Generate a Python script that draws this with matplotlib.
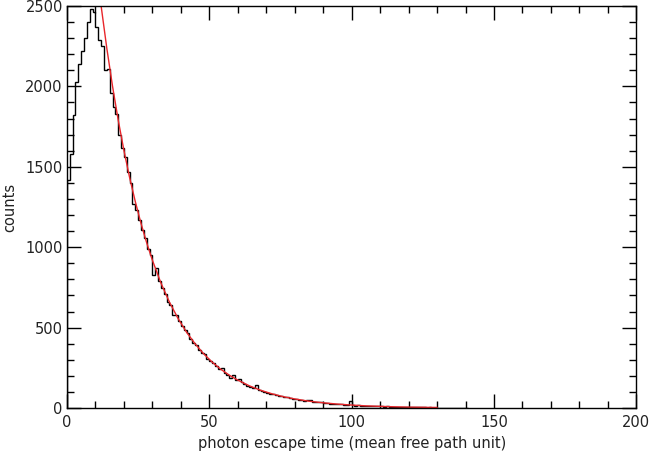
import numpy as np
import matplotlib
matplotlib.use('Agg')
import matplotlib.pyplot as plt
from matplotlib.ticker import MultipleLocator

# histogram counts, bin width 1, bins starting at 0
counts = [1420, 1580, 1820, 2030, 2140, 2220, 2300, 2400, 2480, 2460,
          2370, 2290, 2250, 2100, 2110, 1960, 1870, 1830, 1700, 1620,
          1560, 1470, 1400, 1270, 1230, 1170, 1110, 1060, 990, 950,
          830, 870, 790, 745, 710, 660, 640, 580, 580, 540,
          510, 485, 465, 430, 405, 390, 360, 345, 335, 305,
          290, 280, 262, 240, 250, 220, 205, 190, 205, 175,
          180, 162, 150, 140, 132, 128, 145, 112, 106, 100,
          95, 90, 85, 80, 76, 73, 69, 68, 62, 58,
          56, 52, 50, 47, 52, 50, 40, 38, 36, 35,
          32, 30, 28, 27, 25, 23, 24, 21, 21, 45,
          18, 16, 17, 14, 14, 15, 12, 11, 12, 10,
          10, 9, 11, 8, 9, 7, 8, 6, 7, 6,
          5, 6, 5, 4, 5, 4, 3, 4, 3, 3,
          2, 3, 2, 2, 1, 2, 1, 1, 1, 1, 1]
bin_width = 1.0

# exponential fit
fit_x = [12, 14, 16, 18, 20, 22, 24, 26, 28, 30, 33, 36, 39, 42, 45, 48, 51,
         54, 57, 60, 64, 68, 72, 76, 80, 85, 90, 95, 100, 105, 110, 115,
         120, 125, 130]
fit_y = [2500, 2237, 2002, 1791, 1603, 1434, 1284, 1149, 1028, 920, 778,
         659, 558, 472, 400, 338, 286, 242, 205, 174, 139, 111, 89, 71, 57,
         43, 33, 25, 19, 14, 11, 8, 6, 5, 4]

edges = np.arange(len(counts) + 1) * bin_width

fig = plt.figure(figsize=(6.5, 4.57), dpi=100)
ax = fig.add_axes([0.103, 0.107, 0.876, 0.880])

ax.stairs(counts, edges, color='black', linewidth=1.0)
ax.plot(fit_x, fit_y, color='#e8262b', linewidth=1.0)

ax.set_xlim(0, 200)
ax.set_ylim(0, 2500)
ax.xaxis.set_major_locator(MultipleLocator(50))
ax.xaxis.set_minor_locator(MultipleLocator(10))
ax.yaxis.set_major_locator(MultipleLocator(500))
ax.yaxis.set_minor_locator(MultipleLocator(100))
ax.tick_params(which='both', direction='in', top=True, right=True,
               width=1.0, color='black', labelsize=10.5, labelcolor='#222222')
ax.tick_params(which='major', length=10, pad=5)
ax.tick_params(axis='y', which='major', pad=3)
ax.tick_params(which='minor', length=5)
for s in ax.spines.values():
    s.set_linewidth(1.0)

ax.set_xlabel('photon escape time (mean free path unit)', fontsize=10.5,
              color='#222222', labelpad=4)
ax.set_ylabel('counts', fontsize=10.5, color='#222222', labelpad=6)

fig.savefig('out.png', dpi=100)
